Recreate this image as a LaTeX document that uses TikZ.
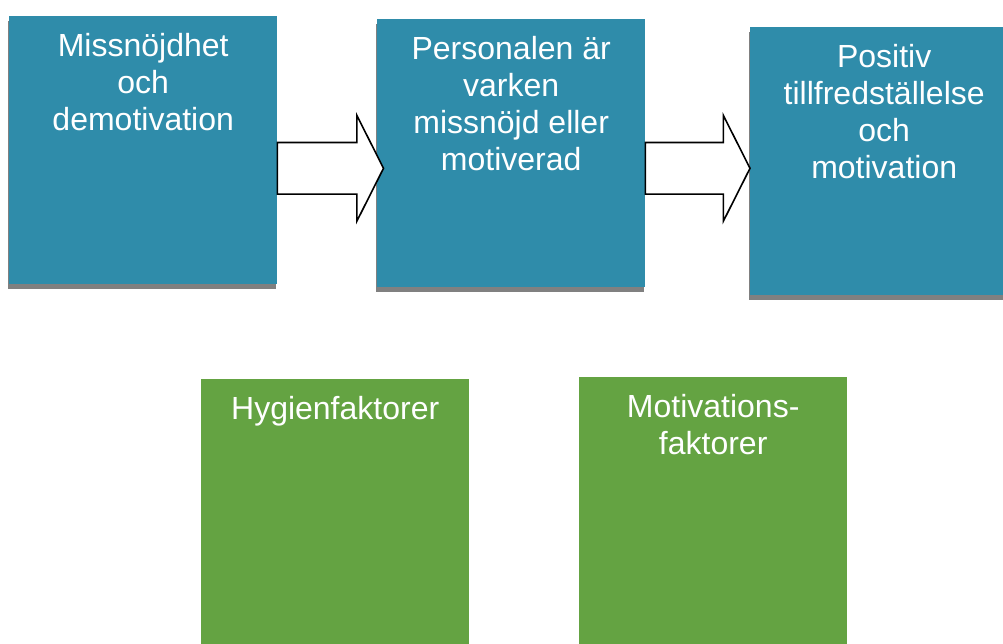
\documentclass[tikz,border=0pt]{standalone}
\usepackage{fontspec}
\setmainfont{Liberation Sans}
\usepackage{xcolor}
\usepackage{tikz}
\usetikzlibrary{positioning, calc, shadows}
\definecolor{tealbox}{RGB}{47,140,170}
\definecolor{grassbox}{RGB}{100,163,66}
\definecolor{boxshadow}{RGB}{128,128,128}
\tikzstyle{bluebox} = [rectangle, anchor=north west, minimum width=268pt, minimum height=268pt, inner sep=0pt, fill=tealbox, drop shadow={shadow xshift=-1pt, shadow yshift=-5pt, fill=boxshadow, opacity=1}]
\tikzstyle{greenbox} = [rectangle, anchor=north west, minimum width=268pt, minimum height=268pt, inner sep=0pt, fill=grassbox]
\tikzstyle{boxtext} = [anchor=north, yshift=-17pt, inner sep=0pt, align=center, text=white, font=\fontsize{32}{37}\selectfont]
\tikzstyle{blockarrow} = [draw=black, line width=1.6pt, fill=white, line join=miter]

\begin{document}
\begin{tikzpicture}[x=1pt, y=-1pt]
    \useasboundingbox (0,0) rectangle (1003,644);
    \clip (0,0) rectangle (1003,644);

    \node (miss) [bluebox, label={[boxtext]north:{Missnöjdhet\\och\\demotivation}}] at (9,16) {};
    \node (pers) [bluebox, label={[boxtext]north:{Personalen är\\varken\\missnöjd eller\\motiverad}}] at (377,19) {};
    \node (pos) [bluebox, label={[boxtext]north:{Positiv\\tillfredställelse\\och\\motivation}}] at (750,27) {};
    \node (hyg) [greenbox, label={[boxtext]north:{Hygienfaktorer}}] at (201,379) {};
    \node (mot) [greenbox, label={[boxtext]north:{Motivations-\\faktorer}}] at (579,377) {};

    % arrows between the boxes
    \coordinate (arrowrow) at (0,168.3);
    \coordinate (a1s) at (miss.east |- arrowrow);
    \coordinate (a1e) at ($(pers.west |- arrowrow)+(6.5,0)$);
    \coordinate (a2s) at (pers.east |- arrowrow);
    \coordinate (a2e) at (pos.west |- arrowrow);
    \draw [blockarrow] ($(a1s)+(0,-25.8)$) -- ($(a1e)+(-26.6,-25.8)$) -- ++(0,-27) -- (a1e) -- ++(-26.6,52.8) -- ++(0,-27) -- ($(a1s)+(0,25.8)$) -- cycle;
    \draw [blockarrow] ($(a2s)+(0,-25.8)$) -- ($(a2e)+(-26.6,-25.8)$) -- ++(0,-27) -- (a2e) -- ++(-26.6,52.8) -- ++(0,-27) -- ($(a2s)+(0,25.8)$) -- cycle;
\end{tikzpicture}
\end{document}
